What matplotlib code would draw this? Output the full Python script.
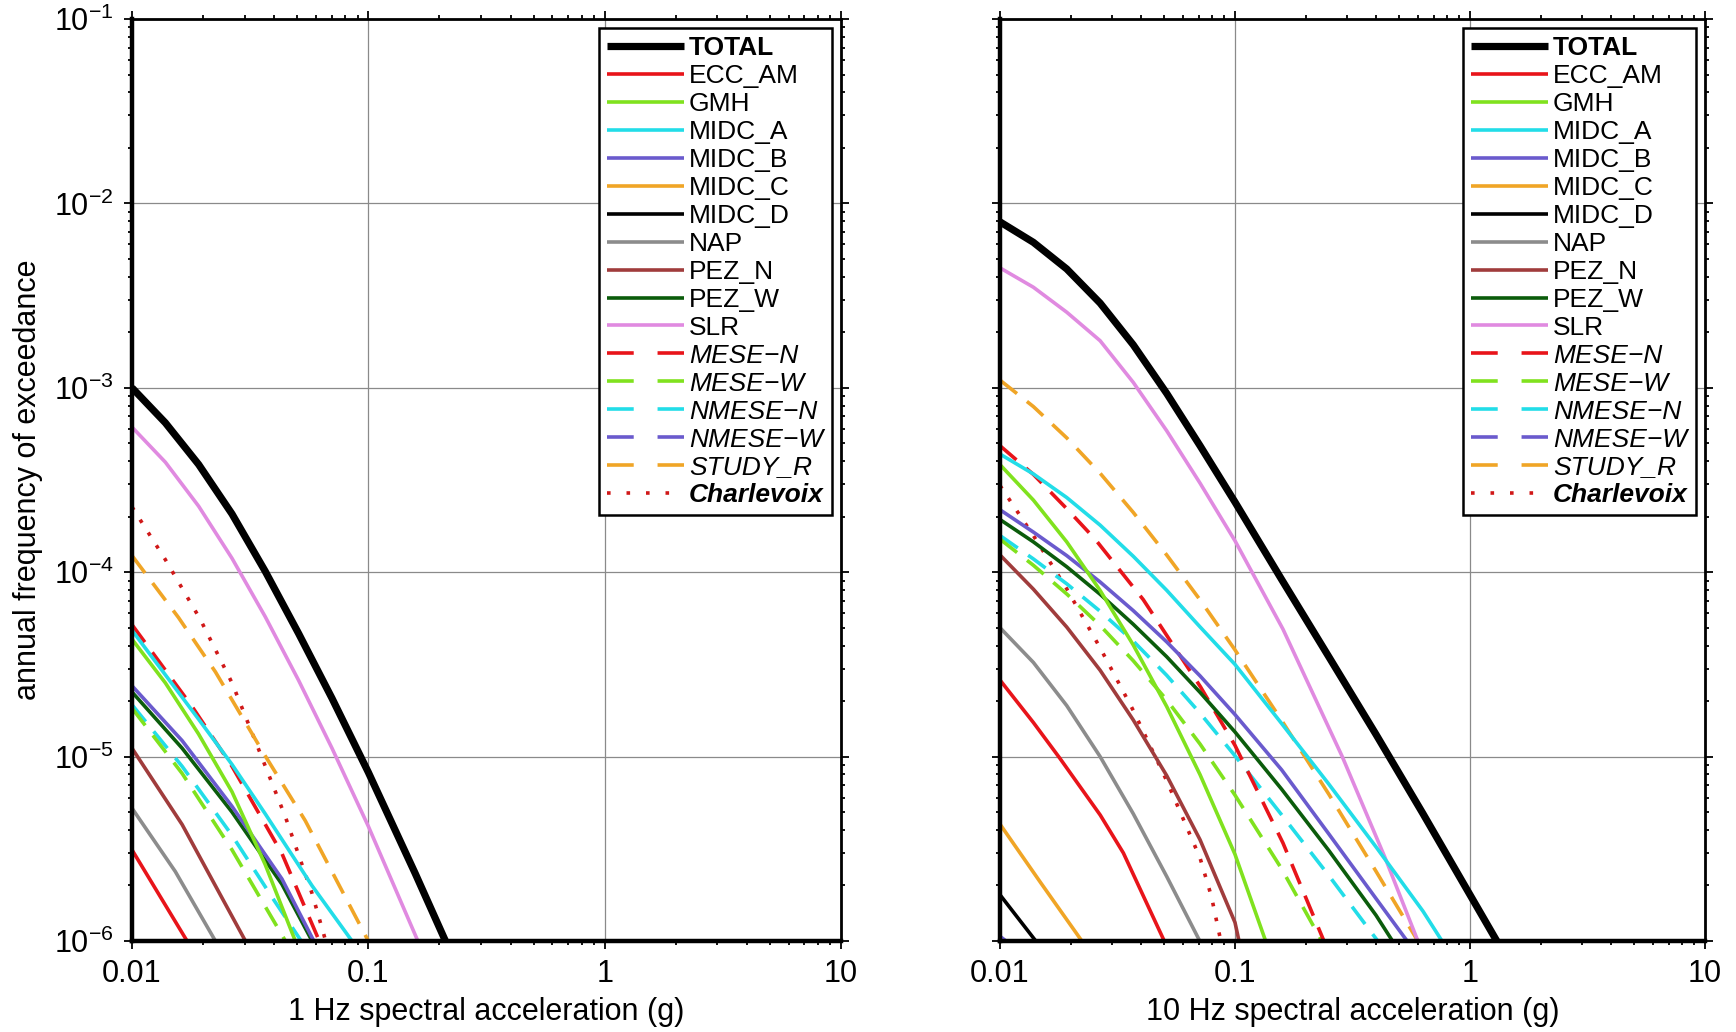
import matplotlib
matplotlib.use("Agg")
import matplotlib.pyplot as plt
from matplotlib.lines import Line2D
from matplotlib.ticker import LogLocator, NullFormatter, FixedLocator, FixedFormatter

plt.rcParams["font.family"] = ["Liberation Sans", "DejaVu Sans"]
plt.rcParams["mathtext.fontset"] = "custom"
plt.rcParams["mathtext.rm"] = "Liberation Sans"
plt.rcParams["mathtext.it"] = "Liberation Sans:italic"

# ── hazard curves: (acceleration g, annual frequency) ──
# 1 Hz panel
hz1_TOTAL = ([0.01, 0.01384, 0.01914, 0.02649, 0.03664, 0.0507, 0.0702, 0.1, 0.158, 0.212],
             [1e-3, 6.46e-4, 3.84e-4, 2.07e-4, 1.01e-4, 4.65e-5, 2.07e-5, 8.22e-6, 2.32e-6, 1e-6])
hz1_ECC_AM = ([0.01, 0.0171], [3.12e-6, 1e-6])
hz1_GMH = ([0.01, 0.01384, 0.0191, 0.0265, 0.0366, 0.0491], [4.33e-5, 2.51e-5, 1.33e-5, 6.44e-6, 2.6e-6, 1e-6])
hz1_MIDC_A = ([0.01, 0.0191, 0.0265, 0.0366, 0.0577, 0.0853], [4.84e-5, 1.6e-5, 9.06e-6, 4.9e-6, 2.0e-6, 1e-6])
hz1_MIDC_B = ([0.01, 0.0163, 0.0265, 0.0431, 0.0588], [2.42e-5, 1.22e-5, 5.37e-6, 2.17e-6, 1e-6])
hz1_MIDC_C = ([], [])
hz1_MIDC_D = ([], [])
hz1_NAP = ([0.01, 0.01525, 0.02254], [5.25e-6, 2.38e-6, 1e-6])
hz1_PEZ_N = ([0.01, 0.0163, 0.0302], [1.11e-5, 4.28e-6, 1e-6])
hz1_PEZ_W = ([0.01, 0.0163, 0.0265, 0.0431, 0.0578], [2.24e-5, 1.11e-5, 5.0e-6, 2.03e-6, 1e-6])
hz1_SLR = ([0.01, 0.01384, 0.01914, 0.02649, 0.03664, 0.0507, 0.0702, 0.1, 0.162],
           [6.12e-4, 3.95e-4, 2.28e-4, 1.19e-4, 5.73e-5, 2.59e-5, 1.11e-5, 4.19e-6, 1e-6])
hz1_MESE_N = ([0.01, 0.01795, 0.0265, 0.0431, 0.062], [5.19e-5, 1.87e-5, 8.85e-6, 2.98e-6, 1e-6])
hz1_MESE_W = ([0.01, 0.0163, 0.0265, 0.0446], [1.83e-5, 8.1e-6, 3.12e-6, 1e-6])
hz1_NMESE_N = ([0.01, 0.0163, 0.0265, 0.0391, 0.052], [1.91e-5, 8.85e-6, 3.74e-6, 1.73e-6, 1e-6])
hz1_NMESE_W = ([], [])
hz1_STUDY_R = ([0.01, 0.01574, 0.02254, 0.0366, 0.0541, 0.1], [1.23e-4, 5.67e-5, 2.88e-5, 1.01e-5, 4.49e-6, 1e-6])
hz1_Charlevoix = ([0.01, 0.01384, 0.01945, 0.0265, 0.0349, 0.0446, 0.0578, 0.066],
                  [2.26e-4, 1.17e-4, 5.55e-5, 2.51e-5, 1.04e-5, 4.7e-6, 1.81e-6, 1e-6])

# 10 Hz panel
hz10_TOTAL = ([0.01, 0.01387, 0.01923, 0.02667, 0.0369, 0.0512, 0.071, 0.1, 0.158, 0.251, 0.398, 0.631, 1.0, 1.30],
              [7.94e-3, 6.15e-3, 4.41e-3, 2.88e-3, 1.71e-3, 9.33e-4, 4.85e-4, 2.4e-4, 9.12e-5, 3.47e-5, 1.32e-5,
               4.9e-6, 1.78e-6, 1e-6])
hz10_ECC_AM = ([0.01, 0.01387, 0.018, 0.0267, 0.0335, 0.050], [2.6e-5, 1.53e-5, 9.77e-6, 4.82e-6, 3.0e-6, 1e-6])
hz10_GMH = ([0.01, 0.01387, 0.01923, 0.02667, 0.0369, 0.0512, 0.071, 0.1, 0.135],
            [3.83e-4, 2.46e-4, 1.46e-4, 7.96e-5, 4.03e-5, 1.87e-5, 7.98e-6, 2.95e-6, 1e-6])
hz10_MIDC_A = ([0.01, 0.01387, 0.01923, 0.02667, 0.0369, 0.0512, 0.071, 0.1, 0.158, 0.251, 0.398, 0.631, 0.76],
               [4.37e-4, 3.41e-4, 2.54e-4, 1.80e-4, 1.22e-4, 7.98e-5, 5.05e-5, 3.16e-5, 1.51e-5, 7.08e-6, 3.24e-6,
                1.45e-6, 1e-6])
hz10_MIDC_B = ([0.01, 0.01387, 0.01923, 0.02667, 0.0369, 0.0512, 0.071, 0.1, 0.158, 0.251, 0.398, 0.54],
               [2.18e-4, 1.65e-4, 1.23e-4, 8.85e-5, 6.19e-5, 4.19e-5, 2.74e-5, 1.69e-5, 8.47e-6, 3.8e-6, 1.7e-6,
                1e-6])
hz10_MIDC_C = ([0.01, 0.0149, 0.0223], [4.3e-6, 2.07e-6, 1e-6])
hz10_MIDC_D = ([0.01, 0.0142], [1.78e-6, 1e-6])
hz10_NAP = ([0.01, 0.01387, 0.01923, 0.02667, 0.0369, 0.0512, 0.0708], [5.0e-5, 3.24e-5, 1.89e-5, 1e-5, 4.9e-6, 2.24e-6, 1e-6])
hz10_PEZ_N = ([0.01, 0.01387, 0.01923, 0.02667, 0.0369, 0.0512, 0.071, 0.1, 0.104],
              [1.24e-4, 8.09e-5, 5.04e-5, 2.94e-5, 1.58e-5, 7.89e-6, 3.54e-6, 1.26e-6, 1e-6])
hz10_PEZ_W = ([0.01, 0.01387, 0.01923, 0.02667, 0.0369, 0.0512, 0.071, 0.1, 0.158, 0.251, 0.398, 0.468],
              [1.93e-4, 1.46e-4, 1.07e-4, 7.59e-5, 5.22e-5, 3.48e-5, 2.23e-5, 1.36e-5, 6.65e-6, 3.09e-6, 1.38e-6,
               1e-6])
hz10_SLR = ([0.01, 0.01387, 0.01923, 0.02667, 0.0369, 0.0512, 0.071, 0.1, 0.160, 0.286, 0.435, 0.60],
            [4.47e-3, 3.51e-3, 2.57e-3, 1.80e-3, 1.07e-3, 5.85e-4, 3.04e-4, 1.48e-4, 4.91e-5, 1e-5, 2.83e-6, 1e-6])
hz10_MESE_N = ([0.01, 0.01387, 0.01923, 0.0254, 0.0407, 0.0713, 0.1, 0.160, 0.239],
               [4.85e-4, 3.39e-4, 2.21e-4, 1.51e-4, 7.1e-5, 2.39e-5, 1.15e-5, 3.4e-6, 1e-6])
hz10_MESE_W = ([0.01, 0.01387, 0.01923, 0.02667, 0.0369, 0.0512, 0.071, 0.1, 0.158, 0.234],
               [1.51e-4, 1.09e-4, 7.62e-5, 5.14e-5, 3.31e-5, 2.03e-5, 1.17e-5, 6.18e-6, 2.46e-6, 1e-6])
hz10_NMESE_N = ([0.01, 0.01387, 0.01923, 0.02667, 0.0369, 0.0512, 0.071, 0.1, 0.158, 0.251, 0.405],
                [1.58e-4, 1.18e-4, 8.65e-5, 6.14e-5, 4.23e-5, 2.76e-5, 1.72e-5, 1.01e-5, 4.83e-6, 2.26e-6, 1e-6])
hz10_NMESE_W = ([0.01, 0.0106], [1.06e-6, 1e-6])
hz10_STUDY_R = ([0.01, 0.01387, 0.01923, 0.02667, 0.0369, 0.0512, 0.071, 0.1, 0.158, 0.251, 0.398, 0.60],
                [1.10e-3, 7.91e-4, 5.35e-4, 3.44e-4, 2.11e-4, 1.24e-4, 7.08e-5, 3.79e-5, 1.57e-5, 6.24e-6, 2.39e-6,
                 1e-6])
hz10_Charlevoix = ([0.01, 0.01387, 0.01923, 0.02667, 0.0369, 0.0512, 0.071, 0.0794, 0.087],
                   [2.95e-4, 1.58e-4, 8.13e-5, 3.89e-5, 1.78e-5, 7.41e-6, 2.82e-6, 1.74e-6, 1e-6])

labels = ["TOTAL", "ECC_AM", "GMH", "MIDC_A", "MIDC_B", "MIDC_C", "MIDC_D", "NAP", "PEZ_N",
          "PEZ_W", "SLR", "MESE\u2212N", "MESE\u2212W", "NMESE\u2212N", "NMESE\u2212W", "STUDY_R", "Charlevoix"]
colors = ["black", "#e8141a", "#80e21e", "#22dde8", "#6a5acd", "#f0a526", "black", "#8c8c8c",
          "#a03c3c", "#0b5c0b", "#e08ae0", "#e8141a", "#80e21e", "#22dde8", "#6a5acd", "#f0a526", "#d01818"]
kinds = ["solid"] * 11 + ["dash"] * 5 + ["dot"]

panel_1hz = [hz1_TOTAL, hz1_ECC_AM, hz1_GMH, hz1_MIDC_A, hz1_MIDC_B, hz1_MIDC_C, hz1_MIDC_D, hz1_NAP,
             hz1_PEZ_N, hz1_PEZ_W, hz1_SLR, hz1_MESE_N, hz1_MESE_W, hz1_NMESE_N, hz1_NMESE_W,
             hz1_STUDY_R, hz1_Charlevoix]
panel_10hz = [hz10_TOTAL, hz10_ECC_AM, hz10_GMH, hz10_MIDC_A, hz10_MIDC_B, hz10_MIDC_C, hz10_MIDC_D,
              hz10_NAP, hz10_PEZ_N, hz10_PEZ_W, hz10_SLR, hz10_MESE_N, hz10_MESE_W, hz10_NMESE_N,
              hz10_NMESE_W, hz10_STUDY_R, hz10_Charlevoix]

x_ticks = [0.01, 0.1, 1, 10]
x_ticklabels = ["0.01", "0.1", "1", "10"]


def line_style(kind, legend=False):
    if kind == "dash":
        return dict(dashes=(7.4, 6.6) if legend else (6, 3.5), dash_capstyle="butt")
    if kind == "dot":
        return dict(dashes=(1, 4.4) if legend else (1, 3.2), dash_capstyle="butt")
    return dict(linestyle="-")


fig = plt.figure(figsize=(17.36, 10.32), dpi=100)
ax1 = fig.add_axes([132 / 1736, 91 / 1032, 709 / 1736, 922 / 1032])
ax2 = fig.add_axes([1000 / 1736, 91 / 1032, 705 / 1736, 922 / 1032])

for ax, curves, show_y in [(ax1, panel_1hz, True), (ax2, panel_10hz, False)]:
    # draw in reverse so TOTAL sits on top
    for i in reversed(range(len(curves))):
        xs, ys = curves[i]
        if not xs:
            continue
        lw = 5.2 if i == 0 else 2.6
        ax.plot(xs, ys, color=colors[i], lw=lw, solid_capstyle="butt", solid_joinstyle="round",
                **line_style(kinds[i]))

    ax.set_xscale("log")
    ax.set_yscale("log")
    ax.set_xlim(0.01, 10)
    ax.set_ylim(1e-6, 1e-1)
    ax.xaxis.set_major_locator(FixedLocator(x_ticks))
    ax.xaxis.set_major_formatter(FixedFormatter(x_ticklabels))
    ax.xaxis.set_minor_locator(LogLocator(base=10, subs=range(2, 10), numticks=20))
    ax.xaxis.set_minor_formatter(NullFormatter())
    ax.yaxis.set_major_locator(LogLocator(base=10, numticks=10))
    ax.yaxis.set_minor_locator(LogLocator(base=10, subs=range(2, 10), numticks=20))
    ax.yaxis.set_minor_formatter(NullFormatter())
    ax.grid(which="major", color="#8a8a8a", lw=0.9)
    ax.set_axisbelow(True)

    ax.tick_params(which="both", direction="out", top=True, right=True, width=1.3,
                   labelsize=22, labelleft=show_y)
    ax.tick_params(which="major", length=6, pad=7)
    ax.tick_params(which="minor", length=3)
    ax.spines["left"].set_linewidth(3.2)
    ax.spines["bottom"].set_linewidth(3.2)
    ax.spines["top"].set_linewidth(2.0)
    ax.spines["right"].set_linewidth(2.0)

    handles = []
    for i in range(len(labels)):
        lw = 5.2 if i == 0 else 2.6
        handles.append(Line2D([], [], color=colors[i], lw=lw, solid_capstyle="butt",
                              **line_style(kinds[i], legend=True)))
    leg = ax.legend(handles, labels, loc="upper right", fontsize=19, frameon=True, fancybox=False,
                    edgecolor="black", framealpha=1, handlelength=2.9, handletextpad=0.2,
                    labelspacing=0.15, borderpad=0.3, borderaxespad=0.35)
    leg.get_frame().set_linewidth(1.8)
    for i, txt in enumerate(leg.get_texts()):
        if i == 0:
            txt.set_fontweight("bold")
        elif kinds[i] == "dash":
            txt.set_fontstyle("italic")
        elif kinds[i] == "dot":
            txt.set_fontstyle("italic")
            txt.set_fontweight("bold")

fig.text(28 / 1736, 0.535, "annual frequency of exceedance", rotation=90, fontsize=22,
         ha="center", va="center")
fig.text(0.2803, 0.019, "1 Hz spectral acceleration (g)", fontsize=22, ha="center", va="center")
fig.text(0.779, 0.019, "10 Hz spectral acceleration (g)", fontsize=22, ha="center", va="center")

fig.savefig("out.png", dpi=100)
